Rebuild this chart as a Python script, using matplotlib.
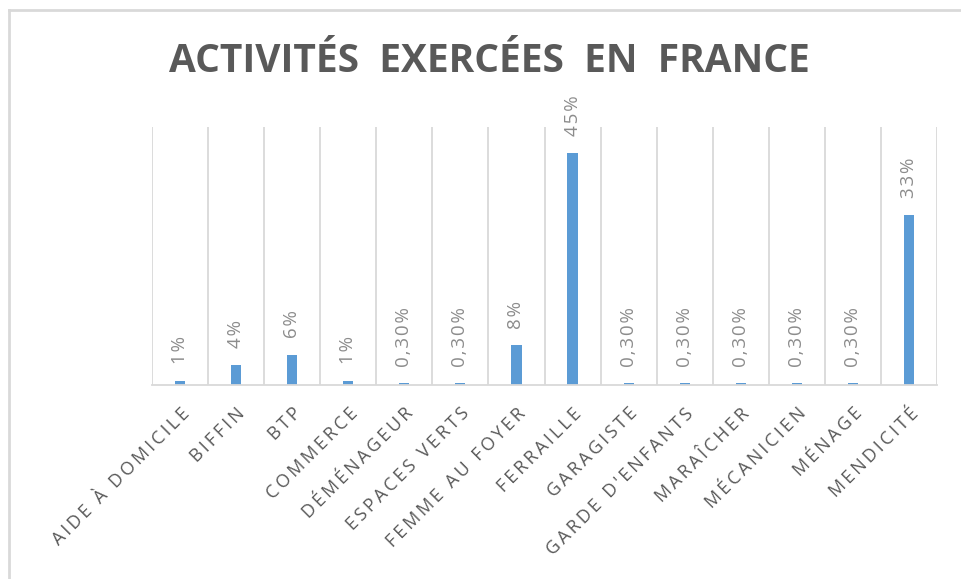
import numpy as np
import matplotlib
matplotlib.use('Agg')
import matplotlib.pyplot as plt
from matplotlib.lines import Line2D

plt.rcParams['font.family'] = ['Open Sans', 'DejaVu Sans']

# data
categories = ['AIDE À DOMICILE', 'BIFFIN', 'BTP', 'COMMERCE', 'DÉMÉNAGEUR',
              'ESPACES VERTS', 'FEMME AU FOYER', 'FERRAILLE', 'GARAGISTE',
              "GARDE D'ENFANTS", 'MARAÎCHER', 'MÉCANICIEN', 'MÉNAGE', 'MENDICITÉ']
values = [0.8, 3.9, 5.8, 0.8, 0.3, 0.3, 7.7, 45, 0.3, 0.3, 0.3, 0.3, 0.3, 33]
value_labels = ['1%', '4%', '6%', '1%', '0,30%', '0,30%', '8%', '45%',
                '0,30%', '0,30%', '0,30%', '0,30%', '0,30%', '33%']

BAR_COLOR = '#5B9BD5'
GRID_COLOR = '#D9D9D9'
TEXT_COLOR = '#595959'


def spaced(s, sep='\u2009'):
    """crude letter spacing"""
    return sep.join(s)


fig = plt.figure(figsize=(9.61, 5.79), dpi=100)
ax = fig.add_axes([152/961, 1-385/579, (937-152)/961, (385-127)/579])

x = np.arange(len(categories))
ax.bar(x, values, width=0.18, color=BAR_COLOR, zorder=3)

# category separators
for b in np.arange(-0.5, len(categories), 1.0):
    ax.axvline(b, color=GRID_COLOR, lw=1.3, zorder=1)

ax.set_xlim(-0.5, len(categories) - 0.5)
ax.set_ylim(0, 50)

for side in ['top', 'right', 'left']:
    ax.spines[side].set_visible(False)
ax.spines['bottom'].set_color(GRID_COLOR)
ax.spines['bottom'].set_linewidth(1.3)
ax.spines['bottom'].set_zorder(4)
ax.set_yticks([])

ax.set_xticks(x)
ax.set_xticklabels([spaced(c) for c in categories], rotation=45, ha='right',
                   rotation_mode='anchor', fontsize=13, color=TEXT_COLOR)
ax.tick_params(axis='x', length=0, pad=14)

for xi, v, lab in zip(x, values, value_labels):
    ax.annotate(spaced(lab, '\u200a'), (xi, v), xytext=(0, 12), textcoords='offset points',
                rotation=90, ha='center', va='bottom', fontsize=13.5,
                color='#8C8C8C')

fig.text(489/961, 1-62/579, 'ACTIVITÉS  EXERCÉES  EN  FRANCE',
         ha='center', va='center', fontsize=28, fontweight='bold', color=TEXT_COLOR)

# outer chart frame
fig.add_artist(Line2D([9/961, 9/961], [0, 1-10/579], transform=fig.transFigure,
                      color=GRID_COLOR, lw=2))
fig.add_artist(Line2D([9/961, 1], [1-10/579, 1-10/579], transform=fig.transFigure,
                      color=GRID_COLOR, lw=2))

plt.savefig('out.png', dpi=100)
